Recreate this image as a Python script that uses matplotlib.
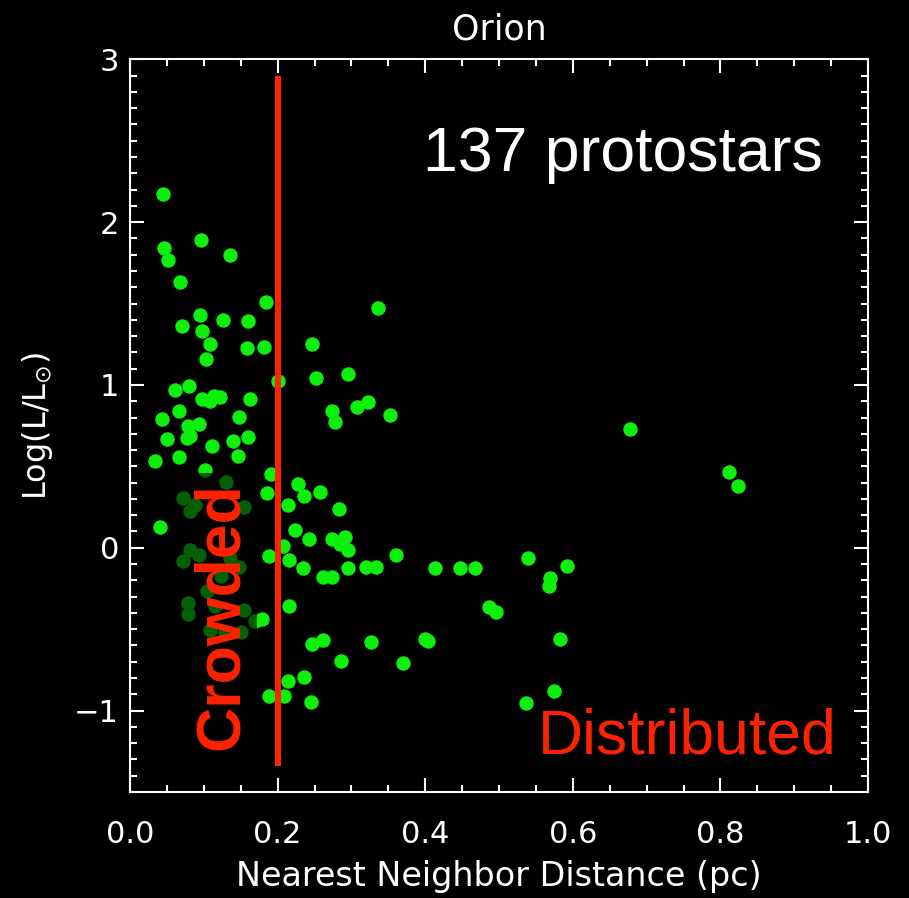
import numpy as np
import matplotlib.pyplot as plt
from matplotlib.patches import Rectangle
from matplotlib.ticker import MultipleLocator, FormatStrFormatter

# nearest neighbour distance (pc) and log luminosity of the protostars
nn_dist = np.array([
    0.045, 0.096, 0.046, 0.052, 0.135, 0.068, 0.184, 0.336, 0.095, 0.070,
    0.126, 0.160, 0.098, 0.108, 0.159, 0.181, 0.247, 0.103, 0.252, 0.295,
    0.200, 0.061, 0.080, 0.097, 0.108, 0.114, 0.122, 0.163, 0.308, 0.322,
    0.274, 0.278, 0.352, 0.044, 0.067, 0.079, 0.094, 0.148, 0.050, 0.077,
    0.081, 0.111, 0.140, 0.160, 0.034, 0.067, 0.146, 0.102, 0.191, 0.227,
    0.185, 0.236, 0.258, 0.214, 0.283, 0.040, 0.224, 0.242, 0.274, 0.291,
    0.285, 0.296, 0.207, 0.189, 0.215, 0.234, 0.261, 0.274, 0.295, 0.320,
    0.333, 0.360, 0.413, 0.447, 0.467, 0.539, 0.592, 0.569, 0.568, 0.486,
    0.496, 0.583, 0.400, 0.404, 0.327, 0.246, 0.262, 0.370, 0.286, 0.236,
    0.575, 0.536, 0.245, 0.678, 0.811, 0.824, 0.215, 0.179, 0.214, 0.189,
    0.208, 0.130, 0.072, 0.088, 0.081, 0.154, 0.081, 0.093, 0.072, 0.148,
    0.123, 0.136, 0.104, 0.079, 0.079, 0.155, 0.169, 0.150, 0.129, 0.108,
    0.115])
log_lum = np.array([
    2.17, 1.89, 1.84, 1.77, 1.80, 1.63, 1.51, 1.47, 1.43, 1.36,
    1.40, 1.39, 1.33, 1.25, 1.225, 1.23, 1.25, 1.16, 1.045, 1.066,
    1.025, 0.97, 0.994, 0.914, 0.904, 0.934, 0.928, 0.914, 0.867, 0.898,
    0.843, 0.771, 0.816, 0.79, 0.837, 0.75, 0.761, 0.802, 0.667, 0.673,
    0.687, 0.626, 0.658, 0.683, 0.53, 0.556, 0.566, 0.479, 0.454, 0.393,
    0.339, 0.315, 0.342, 0.26, 0.239, 0.127, 0.107, 0.055, 0.055, 0.069,
    0.022, -0.012, 0.014, -0.049, -0.074, -0.125, -0.18, -0.18, -0.125, -0.121,
    -0.115, -0.043, -0.125, -0.125, -0.125, -0.063, -0.11, -0.186, -0.237, -0.366,
    -0.397, -0.558, -0.558, -0.571, -0.579, -0.589, -0.569, -0.707, -0.697, -0.793,
    -0.881, -0.953, -0.946, 0.728, 0.468, 0.38, -0.356, -0.438, -0.819, -0.912,
    -0.912, 0.401, 0.305, 0.264, 0.223, 0.248, -0.012, -0.043, -0.084, -0.119,
    -0.176, -0.06, -0.268, -0.339, -0.406, -0.384, -0.452, -0.517, -0.52, -0.503,
    -0.36])

crowd_cut = 0.2
cut_span = [-1.34, 2.9]

red = '#ff2200'

fig = plt.figure(figsize=(9.09, 8.98), dpi=100, facecolor='black')
ax = fig.add_axes([0.143, 0.118, 0.812, 0.816], facecolor='black')

ax.plot(nn_dist, log_lum, 'o', color='#0cf00c', ms=10.4, mew=0, zorder=2)

# dimmed panel behind the "Crowded" label
ax.add_patch(Rectangle((0.054, 0.2), 0.118, 0.235, transform=ax.transAxes,
                       facecolor='black', edgecolor='none', alpha=0.6, zorder=3))

ax.plot([crowd_cut, crowd_cut], cut_span, color=red, lw=4.3, zorder=4,
        solid_capstyle='butt')

ax.set_xlim(0, 1.0)
ax.set_ylim(-1.5, 3)

ax.xaxis.set_major_locator(MultipleLocator(0.2))
ax.xaxis.set_minor_locator(MultipleLocator(0.05))
ax.xaxis.set_major_formatter(FormatStrFormatter('%.1f'))
ax.yaxis.set_major_locator(MultipleLocator(1))
ax.yaxis.set_minor_locator(MultipleLocator(0.1))

for s in ax.spines.values():
    s.set_color('white')
    s.set_linewidth(1.5)

ax.tick_params(which='both', direction='in', top=True, right=True,
               colors='white', width=1.5)
ax.tick_params(which='major', length=10)
ax.tick_params(which='minor', length=5)
ax.tick_params(axis='x', labelsize=22, pad=20)
ax.tick_params(axis='y', labelsize=22, pad=8)

ax.set_title('Orion', color='white', fontsize=25, pad=14)
ax.set_xlabel('Nearest Neighbor Distance (pc)', color='white', fontsize=24,
              labelpad=8)
ax.set_ylabel(r'Log(L/L$_{\odot}$)', color='white', fontsize=23, labelpad=14)

ax.text(0.938, 0.847, '137 protostars', transform=ax.transAxes, color='white',
        fontsize=45, family='Liberation Sans', ha='right', va='baseline')
ax.text(0.958, 0.053, 'Distributed', transform=ax.transAxes, color=red,
        fontsize=45, family='Liberation Sans', ha='right', va='baseline')
ax.text(0.1457, 0.0573, 'Crowded', transform=ax.transAxes, color=red,
        fontsize=45, family='Liberation Sans', fontweight='bold',
        rotation=90, rotation_mode='anchor', ha='left', va='baseline',
        zorder=5)

fig.savefig('out.png', dpi=100, facecolor='black')
